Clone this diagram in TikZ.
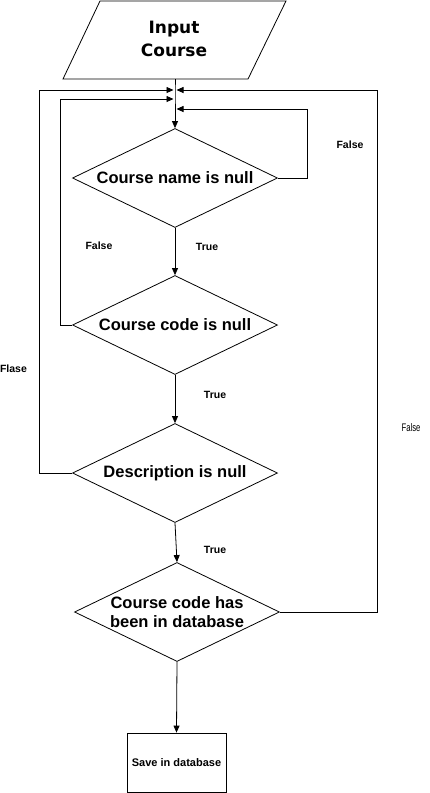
\documentclass[tikz,border=0pt]{standalone}
\usepackage{fontspec}
\setmainfont{Liberation Sans}
\newfontfamily\dvsans{DejaVu Sans}
\usetikzlibrary{shapes.geometric,arrows.meta}
\begin{document}
\begin{tikzpicture}[x=1pt,y=-1pt, line width=0.8pt,
	every node/.style={inner sep=0pt},
	dec/.style={draw,diamond,aspect=2.07,minimum width=205pt,minimum height=99pt,font=\fontsize{16.5}{19}\selectfont\bfseries,align=center},
	lab/.style={font=\fontsize{10.5}{12}\selectfont\bfseries},
	arr/.style={-{Triangle[length=7pt,width=6pt]}}]
		\useasboundingbox (0,0) rectangle (430,793);
		% input parallelogram
		\draw (100,1) -- (286,1) -- (248,79) -- (63,79) -- cycle;
		\node[font=\dvsans\fontsize{17}{23}\selectfont\bfseries,align=center] (in) at (174,39) {Input\\Course};
		\coordinate (inb) at (175,79);
		\coordinate (ja) at (175,90);
		\coordinate (jb) at (175,99);
		\coordinate (jc) at (175,109);
		% decisions
		\node[dec] (d1) at (175,178) {Course name is null};
		\node[dec] (d2) at (175,325) {Course code is null};
		\node[dec] (d3) at (175,473) {Description is null};
		\node[dec] (d4) at (177,612) {Course code has\\been in database};
		\node[draw,minimum width=99pt,minimum height=59pt,font=\fontsize{11}{13}\selectfont\bfseries] (save) at (176.5,762.5) {Save in database};
		% main flow
		\draw (inb) -- (ja) -- (jb) -- (jc);
		\draw[arr] (jc) -- (d1.north);
		\draw[arr] (d1.south) -- (d2.north);
		\draw[arr] (d2.south) -- (d3.north);
		\draw[arr] (d3.south) -- (d4.north);
		\draw[arr] (d4.south) -- (save.north);
		% loops back
		\draw[arr] (d1.east) -- (307,178) -- (307,109) -- ([xshift=1.5pt]jc);
		\draw[arr] (d2.west) -- (60,325) -- (60,99) -- ([xshift=-1.5pt]jb);
		\draw[arr] (d3.west) -- (39,473) -- (39,90) -- ([xshift=-1.5pt]ja);
		\draw[arr] (d4.east) -- (377,612) -- (377,90) -- ([xshift=1.5pt]ja);
		% labels
		\node[lab] (f1) at (350,145) {False};
		\node[lab] (f2) at (99,246) {False};
		\node[lab] (t1) at (207,247) {True};
		\node[lab] (f3) at (13.5,369) {Flase};
		\node[lab] (t2) at (215,395) {True};
		\node[font=\fontsize{11}{13}\selectfont,xscale=0.7] (f4) at (411,428) {False};
		\node[lab] (t3) at (215,550) {True};
\end{tikzpicture}
\end{document}
